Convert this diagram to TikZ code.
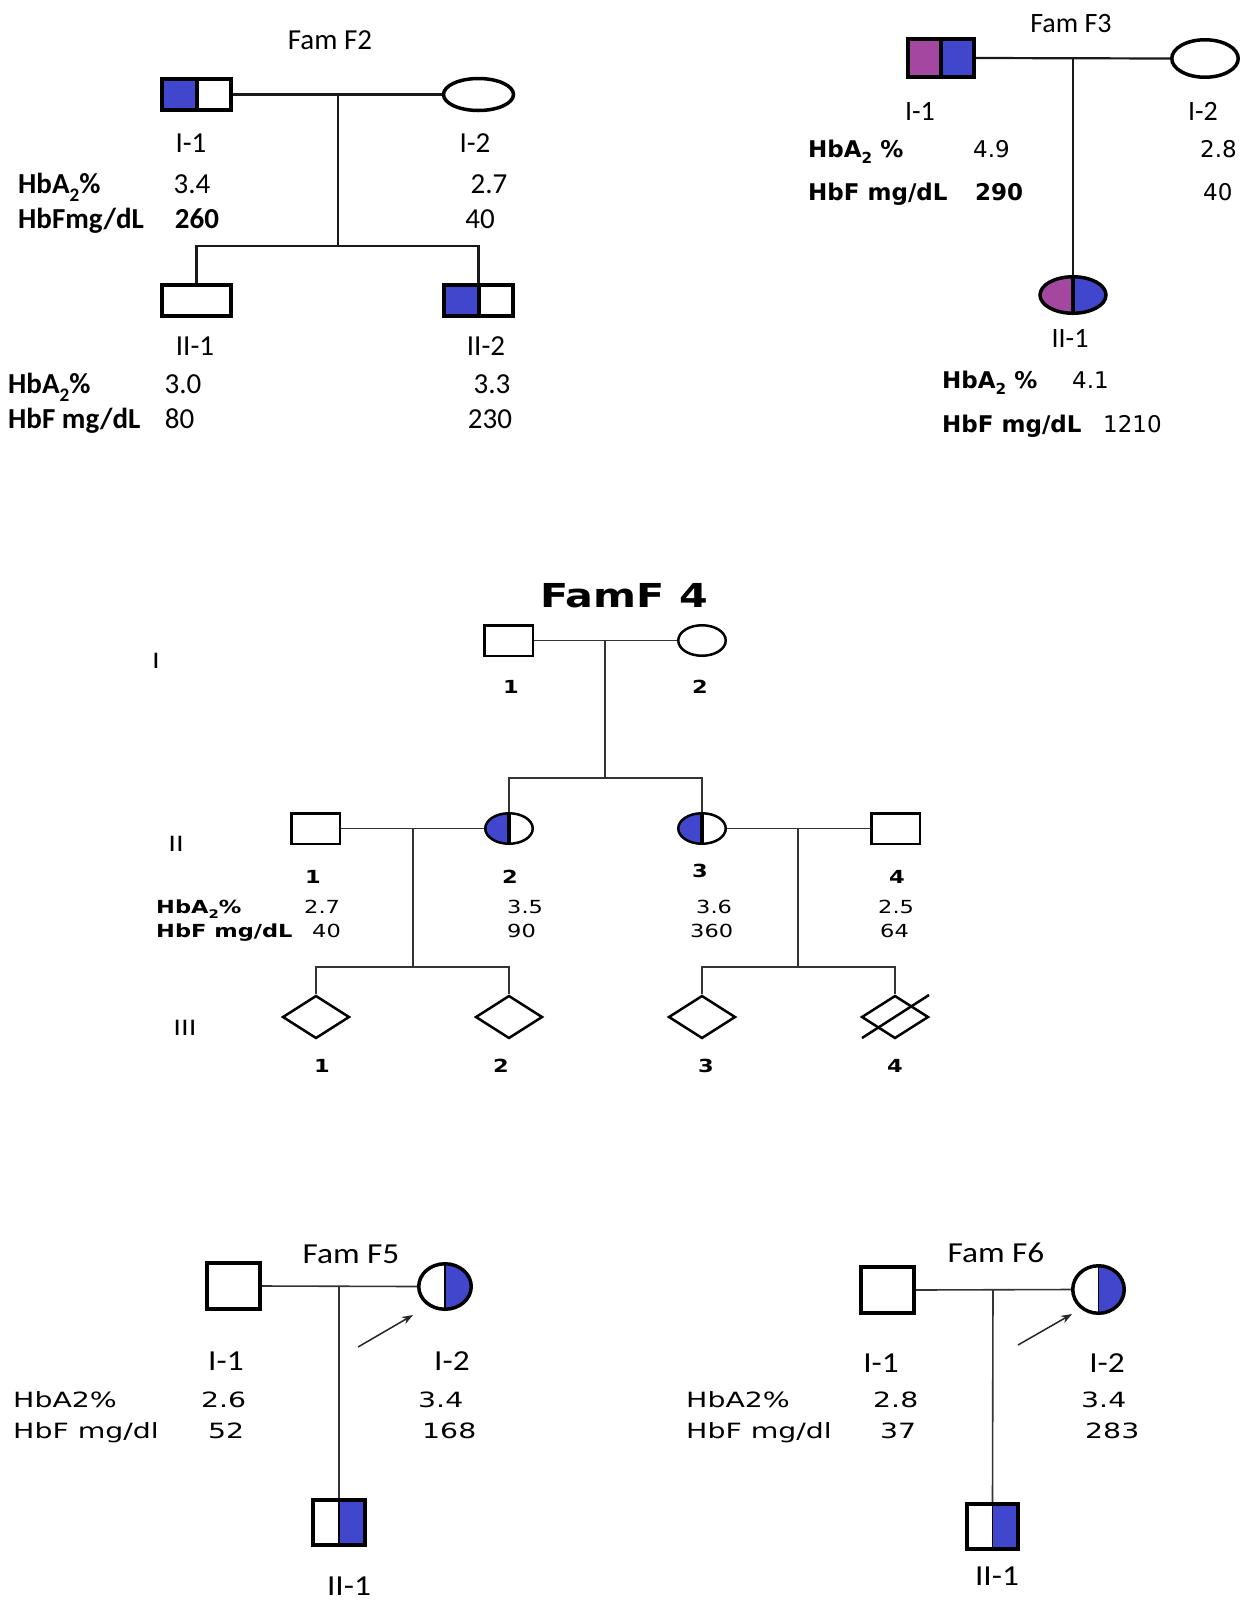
\documentclass[tikz,border=0pt]{standalone}
\usepackage{fontspec}
\usepackage{graphicx}
\setmainfont{Carlito}
\newfontfamily\fCal{Carlito}
\newfontfamily\fCalB[FakeStretch=1.15]{Carlito}
\newfontfamily\fDv{DejaVu Sans}
\newfontfamily\fDvA[FakeStretch=1.25]{DejaVu Sans}
\newfontfamily\fDvB[FakeStretch=1.35]{DejaVu Sans}
\usetikzlibrary{shapes.geometric,arrows.meta,calc}
\definecolor{hbblue}{RGB}{64,71,204}
\definecolor{hbpurple}{RGB}{163,71,160}
\newcommand\subtwo{\raisebox{-0.28em}{\scalebox{0.66}{2}}}
\tikzset{
  con/.style={draw=black!80, line width=1.6pt},
  conb/.style={draw=black!90, line width=2.2pt},
  arr/.style={draw=black!85, line width=1.5pt, -{Stealth[length=11pt,width=8pt]}},
  lab/.style={inner sep=0pt, anchor=base},
  labw/.style={inner sep=0pt, anchor=base west},
  ftwo/.style={font=\fCal\fontsize{29}{34}\selectfont},
  fthreeC/.style={font=\fCal\fontsize{28}{33}\selectfont},
  fthreeD/.style={font=\fDv\fontsize{23}{28}\selectfont},
  ffour/.style={font=\fDvA\fontsize{18}{22}\selectfont},
  ffourG/.style={font=\fDvA\fontsize{21}{25}\selectfont},
  ffourT/.style={font=\fDvA\bfseries\fontsize{33}{38}\selectfont},
  ffiveC/.style={font=\fCalB\fontsize{29}{34}\selectfont},
  ffiveD/.style={font=\fDvB\fontsize{21}{25}\selectfont},
  sq/.style={rectangle, draw=black, fill=white, inner sep=0pt},
  ell/.style={ellipse, draw=black, fill=white, inner sep=0pt},
  dia/.style={diamond, draw=black, fill=white, inner sep=0pt, line width=2.5pt,
              minimum width=67pt, minimum height=43pt},
  sz/.style 2 args={minimum width=#1, minimum height=#2},
  fillL/.style 2 args={path picture={
      \fill[#1] (path picture bounding box.south west) rectangle (path picture bounding box.north);
      \draw[line width=#2] (path picture bounding box.south) -- (path picture bounding box.north);}},
  fillR/.style 2 args={path picture={
      \fill[#1] (path picture bounding box.south east) rectangle (path picture bounding box.north);
      \draw[line width=#2] (path picture bounding box.south) -- (path picture bounding box.north);}},
  fillLR/.style n args={3}{path picture={
      \fill[#1] (path picture bounding box.south west) rectangle (path picture bounding box.north);
      \fill[#2] (path picture bounding box.south east) rectangle (path picture bounding box.north);
      \draw[line width=#3] (path picture bounding box.south) -- (path picture bounding box.north);}},
}
\begin{document}
\begin{tikzpicture}[x=1pt,y=-1pt]
\fill[white] (0,0) rectangle (1243,1607);
\useasboundingbox (0,0) rectangle (1243,1607);

% ================= Fam F2 =================
\node[lab, ftwo] (f2t) at (330,49) {Fam F2};
\node[sq, sz={69pt}{31pt}, line width=4pt, fillL={hbblue}{4pt}] (f2a) at (196.5,94.5) {};
\node[ell, sz={70pt}{32pt}, line width=3.5pt] (f2b) at (478.5,94.5) {};
\coordinate (f2j) at (338,94.5);
\coordinate (f2s) at (338,246);
\node[sq, sz={69pt}{31pt}, line width=4pt] (f2c) at (196.5,300.5) {};
\node[sq, sz={69pt}{31pt}, line width=4pt, fillL={hbblue}{4pt}] (f2d) at (478.5,300.5) {};
\draw[conb] (f2a.east) -- (f2b.west);
\draw[conb] (f2j) -- (f2s);
\draw[conb] (f2c.north) -- (f2c.north |- f2s) -- (f2d.north |- f2s) -- (f2d.north);
\node[lab, ftwo] (f2l1) at (191,152) {I-1};
\node[lab, ftwo] (f2l2) at (475,152) {I-2};
\node[labw, ftwo] (f2h1) at (18,193) {\bfseries HbA\subtwo\%};
\node[lab, ftwo] (f2v1) at (192,193) {3.4};
\node[lab, ftwo] (f2v2) at (489,193) {2.7};
\node[labw, ftwo] (f2h2) at (18,228) {\bfseries HbFmg/dL};
\node[lab, ftwo] (f2v3) at (197,228) {\bfseries 260};
\node[lab, ftwo] (f2v4) at (480,228) {40};
\node[lab, ftwo] (f2l3) at (195,355) {II-1};
\node[lab, ftwo] (f2l4) at (486,355) {II-2};
\node[labw, ftwo] (f2h3) at (8,393) {\bfseries HbA\subtwo\%};
\node[lab, ftwo] (f2v5) at (183,393) {3.0};
\node[lab, ftwo] (f2v6) at (492,393) {3.3};
\node[labw, ftwo] (f2h4) at (8,428) {\bfseries HbF mg/dL};
\node[lab, ftwo] (f2v7) at (179.5,428) {80};
\node[lab, ftwo] (f2v8) at (490,428) {230};

% ================= Fam F3 =================
\node[lab, fthreeC] (f3t) at (1071,32) {Fam F3};
\node[sq, sz={66pt}{38pt}, line width=4pt, fillLR={hbpurple}{hbblue}{4pt}] (f3a) at (941,58) {};
\node[ell, sz={66.5pt}{37.5pt}, line width=3.5pt] (f3b) at (1205,58.5) {};
\coordinate (f3j) at (1073,58);
\node[ell, sz={66pt}{36.5pt}, line width=3.5pt, fillLR={hbpurple}{hbblue}{4pt}] (f3c) at (1073,295) {};
\draw[conb] (f3a.east) -- (f3b.west);
\draw[conb] (f3j) -- (f3c.north);
\node[lab, fthreeC] (f3l1) at (920,120) {I-1};
\node[lab, fthreeC] (f3l2) at (1203,120) {I-2};
\node[labw, fthreeD] (f3h1) at (808,157) {\bfseries HbA\subtwo\ \%};
\node[labw, fthreeD] (f3v1) at (973,157) {4.9};
\node[labw, fthreeD] (f3v2) at (1200,157) {2.8};
\node[labw, fthreeD] (f3h2) at (808,200) {\bfseries HbF mg/dL};
\node[labw, fthreeD] (f3v3) at (975,200) {\bfseries 290};
\node[labw, fthreeD] (f3v4) at (1203,200) {40};
\node[lab, fthreeC] (f3l3) at (1070,347) {II-1};
\node[labw, fthreeD] (f3h3) at (942,388) {\bfseries HbA\subtwo\ \%};
\node[labw, fthreeD] (f3v5) at (1072,388) {4.1};
\node[labw, fthreeD] (f3h4) at (942,432) {\bfseries HbF mg/dL};
\node[labw, fthreeD] (f3v6) at (1103,432) {1210};

% ================= FamF 4 =================
\node[lab, ffourT] (f4t) at (624,607) {FamF 4};
\node[lab, ffourG] (f4g1) at (156,668) {I};
\node[lab, ffourG] (f4g2) at (176,851) {II};
\node[lab, ffourG] (f4g3) at (185,1035) {III};
\node[sq, sz={48.5pt}{30.5pt}, line width=2.5pt] (f4a) at (508.5,640.5) {};
\node[ell, sz={47.5pt}{30.5pt}, line width=2.5pt] (f4b) at (702,640.5) {};
\coordinate (f4j1) at (605,640.5);
\coordinate (f4s1) at (605,778);
\node[sq, sz={48.5pt}{30.5pt}, line width=2.5pt] (f4c) at (315.5,828.5) {};
\node[ell, sz={47.5pt}{30.5pt}, line width=2.5pt, fillL={hbblue}{4.5pt}] (f4d) at (509,828.5) {};
\node[ell, sz={47.5pt}{30.5pt}, line width=2.5pt, fillL={hbblue}{4.5pt}] (f4e) at (702,828.5) {};
\node[sq, sz={48.5pt}{30.5pt}, line width=2.5pt] (f4f) at (895.5,828.5) {};
\coordinate (f4j2) at (413,828.5);
\coordinate (f4s2) at (413,967);
\coordinate (f4j3) at (798,828.5);
\coordinate (f4s3) at (798,967);
\node[dia] (f4g) at (316,1017) {};
\node[dia] (f4h) at (509,1017) {};
\node[dia] (f4i) at (702,1017) {};
\node[dia] (f4k) at (895,1017) {};
\draw[con] (f4a.east) -- (f4b.west);
\draw[con] (f4j1) -- (f4s1);
\draw[con] (f4d.north) -- (f4d.north |- f4s1) -- (f4e.north |- f4s1) -- (f4e.north);
\draw[con] (f4c.east) -- (f4d.west);
\draw[con] (f4e.east) -- (f4f.west);
\draw[con] (f4j2) -- (f4s2);
\draw[con] (f4j3) -- (f4s3);
\draw[con] (f4g.north) -- (f4g.north |- f4s2) -- (f4h.north |- f4s2) -- (f4h.north);
\draw[con] (f4i.north) -- (f4i.north |- f4s3) -- (f4k.north |- f4s3) -- (f4k.north);
\draw[line width=2.5pt] ($(f4k.center)+(-33,21)$) -- ($(f4k.center)+(34,-22)$);
\node[lab, ffour] (f4n1) at (511,693) {\bfseries 1};
\node[lab, ffour] (f4n2) at (700,693) {\bfseries 2};
\node[lab, ffour] (f4n3) at (313,883) {\bfseries 1};
\node[lab, ffour] (f4n4) at (510,883) {\bfseries 2};
\node[lab, ffour] (f4n5) at (700,877) {\bfseries 3};
\node[lab, ffour] (f4n6) at (897,883) {\bfseries 4};
\node[lab, ffour] (f4n7) at (322,1072) {\bfseries 1};
\node[lab, ffour] (f4n8) at (501,1072) {\bfseries 2};
\node[lab, ffour] (f4n9) at (706,1072) {\bfseries 3};
\node[lab, ffour] (f4n10) at (895,1072) {\bfseries 4};
\node[labw, ffour] (f4h1) at (156,913) {\bfseries HbA\subtwo\%};
\node[labw, ffour] (f4v1) at (304,913) {2.7};
\node[labw, ffour] (f4v2) at (507,913) {3.5};
\node[labw, ffour] (f4v3) at (696,913) {3.6};
\node[labw, ffour] (f4v4) at (878,913) {2.5};
\node[labw, ffour] (f4h2) at (156,937) {\bfseries HbF mg/dL};
\node[labw, ffour] (f4v5) at (312,937) {40};
\node[labw, ffour] (f4v6) at (507,937) {90};
\node[labw, ffour] (f4v7) at (690,937) {360};
\node[labw, ffour] (f4v8) at (880,937) {64};

% ================= Fam F5 =================
\node[lab, ffiveC] (f5t) at (351,1263) {Fam F5};
\node[sq, sz={53pt}{46pt}, line width=4pt] (f5a) at (233.5,1286) {};
\node[ell, sz={52.5pt}{45.5pt}, line width=3.5pt, fillR={hbblue}{1.5pt}] (f5b) at (445,1286.5) {};
\coordinate (f5j) at (339,1286.5);
\node[sq, sz={52pt}{45pt}, line width=4pt, fillR={hbblue}{1.5pt}] (f5c) at (339,1522.5) {};
\draw[con] (f5a.east) -- (f5b.west);
\draw[con] (f5j) -- (f5c.north);
\coordinate (f5p) at (358,1347);
\coordinate (f5q) at (413,1315);
\draw[arr] (f5p) -- (f5q);
\node[lab, ffiveC] (f5l1) at (226,1370) {I-1};
\node[lab, ffiveC] (f5l2) at (452,1370) {I-2};
\node[labw, ffiveD] (f5h1) at (13,1407) {HbA2\%};
\node[labw, ffiveD] (f5v1) at (201,1407) {2.6};
\node[labw, ffiveD] (f5v2) at (418,1407) {3.4};
\node[labw, ffiveD] (f5h2) at (13,1438) {HbF mg/dl};
\node[labw, ffiveD] (f5v3) at (208,1438) {52};
\node[labw, ffiveD] (f5v4) at (422,1438) {168};
\node[lab, ffiveC] (f5l3) at (349,1595) {II-1};

% ================= Fam F6 =================
\node[lab, ffiveC] (f6t) at (996,1262) {Fam F6};
\node[sq, sz={53pt}{46pt}, line width=4pt] (f6a) at (887.5,1290) {};
\node[ell, sz={51.5pt}{47.5pt}, line width=3.5pt, fillR={hbblue}{1.5pt}] (f6b) at (1098.5,1289.5) {};
\coordinate (f6j) at (993,1290);
\node[sq, sz={51pt}{45pt}, line width=4pt, fillR={hbblue}{1.5pt}] (f6c) at (992.5,1526.5) {};
\draw[con] (f6a.east) -- (f6b.west);
\draw[con] (f6j) -- (f6c.north);
\coordinate (f6p) at (1018,1345);
\coordinate (f6q) at (1072,1314);
\draw[arr] (f6p) -- (f6q);
\node[lab, ffiveC] (f6l1) at (881,1372) {I-1};
\node[lab, ffiveC] (f6l2) at (1107,1372) {I-2};
\node[labw, ffiveD] (f6h1) at (686,1407) {HbA2\%};
\node[labw, ffiveD] (f6v1) at (873,1407) {2.8};
\node[labw, ffiveD] (f6v2) at (1081,1407) {3.4};
\node[labw, ffiveD] (f6h2) at (686,1438) {HbF mg/dl};
\node[labw, ffiveD] (f6v3) at (880,1438) {37};
\node[labw, ffiveD] (f6v4) at (1085,1438) {283};
\node[lab, ffiveC] (f6l3) at (997,1585) {II-1};
\end{tikzpicture}
\end{document}
